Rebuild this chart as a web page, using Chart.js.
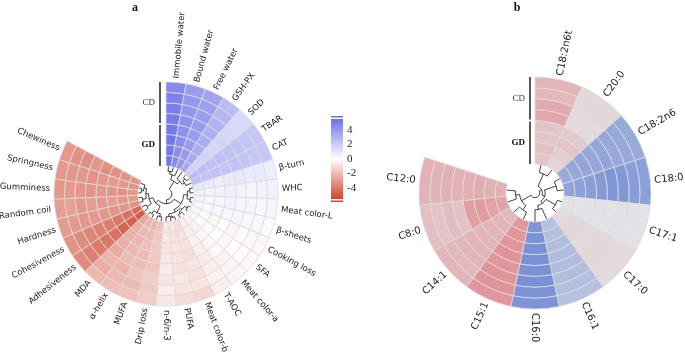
<!DOCTYPE html>
<html lang="en">
<head>
<meta charset="UTF-8" />
<title>Circular heatmaps</title>
<script src="https://cdn.jsdelivr.net/npm/chart.js"></script>
<style>
    body { margin: 0; background: #fff; width: 685px; height: 358px; position: relative; overflow: hidden; }
    canvas { position: absolute; top: 0; }
    #chartA { left: 0; }
    #chartB { left: 380px; }
</style>
</head>
<body>
<canvas id="chartA" width="380" height="358"></canvas>
<canvas id="chartB" width="305" height="358"></canvas>
<script>
// ---- panel a: traits, clockwise from the top ----
const traitsA = ['Immobile water', 'Bound water', 'Free water', 'GSH-PX', 'SOD', 'TBAR', 'CAT', 'β-turn', 'WHC',
    'Meat color-L', 'β-sheets', 'Cooking loss', 'SFA', 'Meat color-a', 'T-AOC', 'Meat color-b', 'PUFA', 'n-6/n-3',
    'Drip loss', 'MUFA', 'α-helix', 'MDA', 'Adhesiveness', 'Cohesiveness', 'Hardness', 'Random coil', 'Gumminess',
    'Springness', 'Chewiness'];
// rings from outside to inside: CD1..CD4, GD1..GD4
const cdA1 = [4.6, 3.8, 3.6, 2.6, 1.5, 2.2, 2.2, 0.7, 0.5, 0.4, 0.2, -0.2, -0.2, -0.3, -0.5, -1.2, -1.0, -0.7, -1.5, -1.8, -1.9, -2.1, -3.4, -3.2, -2.9, -2.9, -3.1, -3.0, -3.0];
const cdA2 = [4.9, 4.0, 3.7, 2.8, 1.5, 2.3, 2.2, 0.8, 0.5, 0.3, 0.3, -0.2, -0.1, -0.3, -0.4, -0.8, -0.8, -0.6, -1.6, -2.0, -2.1, -2.4, -3.7, -3.4, -3.0, -2.8, -3.0, -3.1, -3.2];
const cdA3 = [5.0, 4.1, 3.8, 3.0, 1.6, 2.4, 2.3, 0.8, 0.4, 0.4, 0.3, -0.1, 0.0, -0.4, -0.5, -0.9, -0.7, -0.8, -1.5, -1.8, -2.2, -2.2, -3.9, -3.6, -3.1, -3.0, -3.1, -3.0, -3.3];
const cdA4 = [5.1, 4.2, 3.9, 3.1, 1.7, 2.4, 2.4, 0.9, 0.5, 0.4, 0.4, -0.3, -0.2, -0.2, -0.6, -0.8, -0.9, -0.6, -1.7, -1.9, -2.0, -2.5, -4.0, -3.7, -3.0, -2.9, -3.2, -3.2, -3.1];
const gdA1 = [5.2, 4.3, 3.9, 3.2, 1.6, 2.5, 2.3, 0.8, 0.6, 0.5, 0.3, -0.1, 0.0, -0.3, -0.5, -1.0, -0.8, -0.7, -1.6, -2.0, -2.1, -2.3, -4.2, -3.8, -3.1, -3.0, -3.0, -3.1, -3.3];
const gdA2 = [5.3, 4.4, 3.9, 3.2, 1.7, 2.5, 2.4, 0.7, 0.5, 0.4, 0.3, -0.3, -0.1, -0.3, -0.4, -0.9, -0.8, -0.8, -1.6, -1.9, -2.2, -2.3, -4.5, -4.0, -3.2, -2.9, -3.1, -3.0, -3.2];
const gdA3 = [5.3, 4.4, 4.0, 3.3, 1.7, 2.6, 2.4, 0.8, 0.5, 0.4, 0.2, -0.2, -0.1, -0.4, -0.5, -0.9, -0.9, -0.7, -1.7, -2.0, -2.1, -2.4, -4.6, -4.2, -3.1, -3.0, -3.2, -3.1, -3.2];
const gdA4 = [5.4, 4.5, 4.0, 3.3, 1.8, 2.6, 2.5, 0.9, 0.6, 0.5, 0.3, -0.2, -0.2, -0.3, -0.5, -1.0, -0.8, -0.8, -1.8, -2.1, -2.2, -2.6, -4.8, -4.4, -3.2, -3.1, -3.1, -3.2, -3.1];
// dendrogram merges [node, node, height]; new nodes numbered after the leaves
const treeA = [[0, 1, 0.2], [29, 2, 0.3], [4, 5, 0.15], [31, 6, 0.25], [3, 32, 0.35], [30, 33, 0.5],
    [7, 8, 0.15], [9, 10, 0.12], [35, 36, 0.25], [11, 12, 0.1], [13, 14, 0.15], [38, 39, 0.22],
    [15, 16, 0.14], [41, 17, 0.2], [40, 42, 0.3], [37, 43, 0.4], [18, 19, 0.18], [20, 21, 0.15],
    [45, 46, 0.28], [22, 23, 0.2], [24, 25, 0.15], [26, 27, 0.12], [50, 28, 0.2], [49, 51, 0.3],
    [48, 52, 0.4], [47, 53, 0.55], [44, 54, 0.7], [34, 55, 0.85]];
const colorbarTicks = [4, 2, 0, -2, -4];

// ---- panel b: fatty acids ----
const acidsB = ['C18:2n6t', 'C20:0', 'C18:2n6', 'C18:0', 'C17:1', 'C17:0', 'C16:1', 'C16:0', 'C15:1', 'C14:1', 'C8:0', 'C12:0'];
const cdB1 = [0.42, 0.12, -0.68, -0.80, -0.02, 0.10, -0.42, -0.92, 0.70, 0.42, 0.34, 0.45];
const cdB2 = [0.40, 0.12, -0.70, -0.82, -0.02, 0.10, -0.44, -0.94, 0.72, 0.40, 0.30, 0.44];
const cdB3 = [0.52, 0.10, -0.70, -0.88, -0.03, 0.12, -0.45, -0.95, 0.72, 0.42, 0.36, 0.46];
const cdB4 = [0.55, 0.10, -0.72, -0.90, -0.02, 0.12, -0.46, -0.96, 0.70, 0.44, 0.32, 0.45];
const gdB1 = [0.30, 0.25, -0.70, -0.85, -0.02, 0.10, -0.46, -0.95, 0.72, 0.42, 0.62, 0.48];
const gdB2 = [0.28, 0.28, -0.72, -0.82, -0.03, 0.12, -0.45, -0.96, 0.70, 0.44, 0.65, 0.50];
const gdB3 = [0.33, 0.20, -0.70, -0.78, -0.02, 0.12, -0.44, -0.94, 0.70, 0.42, 0.60, 0.48];
const gdB4 = [0.30, 0.15, -0.68, -0.75, -0.02, 0.10, -0.42, -0.92, 0.68, 0.40, 0.58, 0.46];
const treeB = [[0, 1, 0.3], [2, 3, 0.25], [4, 5, 0.2], [6, 7, 0.45], [8, 9, 0.3], [10, 11, 0.35],
    [16, 17, 0.5], [14, 15, 0.6], [13, 19, 0.7], [12, 20, 0.8], [21, 18, 0.9]];

function mix(c1, c2, t) {
    return c1.map((v, i) => Math.round(v + (c2[i] - v) * t));
}

function colorA(v) {
    const t = Math.max(-1, Math.min(1, v / 5.5));
    const c = t >= 0 ? mix([255, 255, 255], [110, 114, 232], t) : mix([255, 255, 255], [207, 68, 45], -t);
    return `rgb(${c})`;
}

function colorB(v) {
    const t = Math.max(-1, Math.min(1, v));
    const c = t >= 0 ? mix([229, 229, 231], [222, 116, 122], t) : mix([229, 229, 231], [116, 142, 212], -t);
    return `rgb(${c})`;
}

function makeRings(rings, colorFn) {
    return rings.map(vals => ({
        data: vals.map(() => 1),
        backgroundColor: vals.map(colorFn),
        borderColor: '#dcdcdc',
        borderWidth: 0.8
    }));
}

// labels round the rim, dendrogram in the hole, CD/GD bracket
const circleDecor = {
    id: 'circleDecor',
    afterDatasetsDraw(chart, args, opts) {
        const ctx = chart.ctx;
        const n = chart.data.datasets.length;
        const arcs = chart.getDatasetMeta(0).data;
        const innerArc = chart.getDatasetMeta(n - 1).data[0];
        const cx = arcs[0].x, cy = arcs[0].y;
        const R = arcs[0].outerRadius, rIn = innerArc.innerRadius;
        ctx.save();

        // category labels
        ctx.font = opts.font;
        ctx.fillStyle = '#1a1a1a';
        ctx.textBaseline = 'middle';
        arcs.forEach((arc, i) => {
            const a = (arc.startAngle + arc.endAngle) / 2;
            const r = R + opts.pad;
            ctx.save();
            ctx.translate(cx + Math.cos(a) * r, cy + Math.sin(a) * r);
            if (Math.cos(a) > -1e-6) {
                ctx.rotate(a);
                ctx.textAlign = 'left';
            } else {
                ctx.rotate(a + Math.PI);
                ctx.textAlign = 'right';
            }
            ctx.fillText(chart.data.labels[i], 0, 0);
            ctx.restore();
        });

        // dendrogram
        const ang = arcs.map(arc => (arc.startAngle + arc.endAngle) / 2);
        const rad = arcs.map(() => rIn - 0.5);
        const rOf = h => rIn - h * (rIn - 2);
        ctx.strokeStyle = '#111';
        ctx.lineWidth = 0.8;
        ctx.beginPath();
        opts.tree.forEach(([p, q, h]) => {
            const r = rOf(h);
            [p, q].forEach(k => {
                ctx.moveTo(cx + Math.cos(ang[k]) * rad[k], cy + Math.sin(ang[k]) * rad[k]);
                ctx.lineTo(cx + Math.cos(ang[k]) * r, cy + Math.sin(ang[k]) * r);
            });
            const a1 = Math.min(ang[p], ang[q]), a2 = Math.max(ang[p], ang[q]);
            ctx.moveTo(cx + Math.cos(a1) * r, cy + Math.sin(a1) * r);
            ctx.arc(cx, cy, r, a1, a2);
            ang.push((ang[p] + ang[q]) / 2);
            rad.push(r);
        });
        ctx.stroke();

        // CD / GD bracket
        const w = (R - rIn) / n;
        const lx = cx - opts.bracketGap;
        ctx.lineWidth = 1.4;
        ctx.beginPath();
        ctx.moveTo(lx, cy - R);
        ctx.lineTo(lx, cy - R + 4 * w - 1);
        ctx.moveTo(lx, cy - R + 4 * w + 1);
        ctx.lineTo(lx, cy - rIn);
        ctx.stroke();
        ctx.textAlign = 'right';
        ctx.fillStyle = '#333';
        ctx.font = '9px "Liberation Serif", serif';
        ctx.fillText('CD', lx - 5, cy - R + 2 * w);
        ctx.fillStyle = '#111';
        ctx.font = 'bold 9px "Liberation Serif", serif';
        ctx.fillText('GD', lx - 5, cy - R + 6 * w);

        // panel letter
        ctx.font = 'bold 12px "Liberation Serif", serif';
        ctx.textAlign = 'center';
        ctx.fillText(opts.letter, opts.letterX, 8);
        ctx.restore();
    }
};

const colorbar = {
    id: 'colorbar',
    afterDraw(chart, args, opts) {
        if (!opts.show) return;
        const ctx = chart.ctx;
        const x = 331, w = 12, top = 119, bottom = 199, vmax = 5.5;
        const grad = ctx.createLinearGradient(0, top, 0, bottom);
        for (let s = 0; s <= 20; s++) {
            grad.addColorStop(s / 20, colorA(vmax - (2 * vmax * s) / 20));
        }
        ctx.save();
        ctx.fillStyle = grad;
        ctx.fillRect(x, top, w, bottom - top);
        ctx.fillStyle = colorA(vmax);
        ctx.fillRect(x, top - 3, w, 1.5);
        ctx.fillStyle = colorA(-vmax);
        ctx.fillRect(x, bottom + 1.5, w, 1.5);
        ctx.fillStyle = '#222';
        ctx.font = '11px "Liberation Serif", serif';
        ctx.textAlign = 'left';
        ctx.textBaseline = 'middle';
        colorbarTicks.forEach(t => {
            const y = (top + bottom) / 2 - t * (bottom - top) / (2 * vmax);
            ctx.fillText(String(t), x + w + 4, y);
        });
        ctx.restore();
    }
};

Chart.register(circleDecor, colorbar);

new Chart(document.getElementById('chartA').getContext('2d'), {
    type: 'doughnut',
    data: {
        labels: traitsA,
        datasets: makeRings([cdA1, cdA2, cdA3, cdA4, gdA1, gdA2, gdA3, gdA4], colorA)
    },
    options: {
        responsive: false,
        animation: false,
        events: [],
        rotation: 0,
        circumference: 29 * 360 / 35,
        radius: 112,
        cutout: '25%',
        layout: { padding: { left: 0, right: 48, top: 30, bottom: 0 } },
        plugins: {
            legend: { display: false },
            tooltip: { enabled: false },
            circleDecor: { font: '8.5px "DejaVu Sans", sans-serif', pad: 4, tree: treeA, bracketGap: 6, letter: 'a', letterX: 135 },
            colorbar: { show: true }
        }
    }
});

new Chart(document.getElementById('chartB').getContext('2d'), {
    type: 'doughnut',
    data: {
        labels: acidsB,
        datasets: makeRings([cdB1, cdB2, cdB3, cdB4, gdB1, gdB2, gdB3, gdB4], colorB)
    },
    options: {
        responsive: false,
        animation: false,
        events: [],
        rotation: 0,
        circumference: 288,
        radius: 116,
        cutout: '25%',
        layout: { padding: { left: 5, right: 0, top: 28, bottom: 0 } },
        plugins: {
            legend: { display: false },
            tooltip: { enabled: false },
            circleDecor: { font: '10px "DejaVu Sans", sans-serif', pad: 4, tree: treeB, bracketGap: 5, letter: 'b', letterX: 137 },
            colorbar: { show: false }
        }
    }
});
</script>
</body>
</html>
